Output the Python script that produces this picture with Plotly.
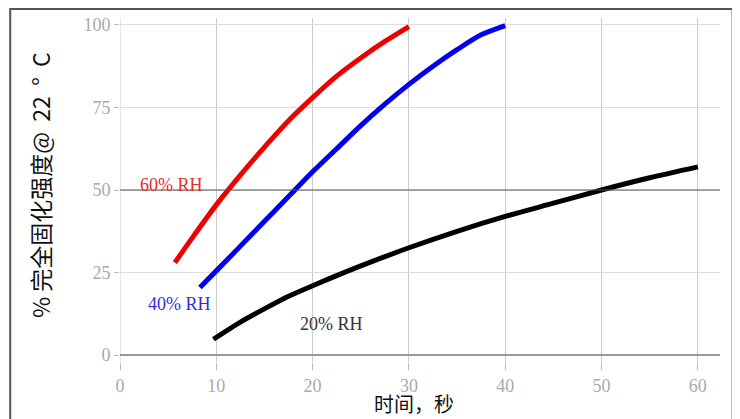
import plotly.graph_objects as go

# Data
rh60_x = [5.7, 7.5, 10, 12.5, 15, 17.5, 20, 22.5, 25, 27.5, 30]
rh60_y = [28, 35.5, 45.5, 54.5, 63, 71, 78, 84.5, 90, 95, 99.5]

rh40_x = [8.3, 10, 12.5, 15, 17.5, 20, 22.5, 25, 27.5, 30, 32.5, 35, 37.5, 40]
rh40_y = [20.5, 25.5, 33, 40.5, 48, 55.5, 62.5, 69.5, 76, 82, 87.5, 92.5, 97, 99.8]

rh20_x = [9.7, 12.5, 15, 17.5, 20, 25, 30, 35, 40, 45, 50, 55, 60]
rh20_y = [4.8, 10, 14, 17.8, 21, 27, 32.5, 37.5, 42, 46, 50, 53.7, 57]

series_names = ["60% RH", "40% RH", "20% RH"]
series_colors = ["#ee0000", "#0000ee", "#000000"]
label_colors = ["#e03030", "#3030e0", "#333333"]
label_x = [5.3, 6.2, 22]
label_y = [51.5, 15.5, 9.5]

x_ticks = [0, 10, 20, 30, 40, 50, 60]
y_ticks = [0, 25, 50, 75, 100]
ref_line_y = 50

x_title = "时间，秒"
y_title = "%\u00a0完全固化强度@\u00a0\u00a022\u00a0\u00a0°\u00a0\u00a0C"

serif = "Liberation Serif, Noto Serif, serif"

fig = go.Figure()
for xs, ys, name, col in zip([rh60_x, rh40_x, rh20_x], [rh60_y, rh40_y, rh20_y],
                             series_names, series_colors):
    fig.add_trace(go.Scatter(x=xs, y=ys, mode="lines", name=name,
                             line=dict(color=col, width=5, shape="spline", smoothing=0.8),
                             showlegend=False, hoverinfo="skip"))

for name, col, lx, ly in zip(series_names, label_colors, label_x, label_y):
    fig.add_annotation(x=lx, y=ly, text=name, showarrow=False,
                       font=dict(family=serif, size=18, color=col))

# reference line at 50
fig.add_shape(type="line", xref="paper", x0=0, x1=1, yref="y", y0=ref_line_y, y1=ref_line_y,
              line=dict(color="#555555", width=1), layer="above")

# outer border
fig.add_shape(type="rect", xref="paper", yref="paper",
              x0=-0.183, x1=1.021, y0=-0.2, y1=1.026,
              line=dict(color="#555555", width=2), layer="below")

tick_font = dict(family=serif, size=18, color="#aaaaaa")

fig.update_xaxes(range=[0, 62.3], tickvals=x_ticks, showgrid=True, gridcolor="#cccccc",
                 gridwidth=1, zeroline=False, showline=False, automargin=False,
                 ticks="outside", ticklen=7, tickcolor="#bbbbbb", tickfont=tick_font)
fig.update_yaxes(range=[-2.1, 102.1], tickvals=y_ticks, showgrid=True, gridcolor="#dddddd",
                 gridwidth=1, zeroline=True, zerolinecolor="#999999", zerolinewidth=1.5,
                 showline=False, ticks="outside", ticklen=5, tickcolor="#bbbbbb",
                 tickfont=tick_font, automargin=False)

# axis titles as annotations
fig.add_annotation(xref="paper", yref="paper", x=0.49, y=-0.122, text=x_title,
                   showarrow=False, yanchor="middle",
                   font=dict(family="Noto Sans CJK SC", size=20, color="#111111"))
fig.add_annotation(xref="paper", yref="paper", x=-0.133, y=0.515, text=y_title,
                   showarrow=False, textangle=-90, xanchor="center", yanchor="middle",
                   font=dict(family="Noto Sans CJK SC", size=23, color="#111111"))

# y axis line at x=0 (vertical gridline)
fig.add_shape(type="line", xref="x", x0=0, x1=0, yref="paper", y0=0, y1=1,
              line=dict(color="#cccccc", width=1), layer="below")

fig.update_layout(width=732, height=411, plot_bgcolor="white", paper_bgcolor="white",
                  margin=dict(l=112, r=20, t=10, b=57))

fig.write_html("out.html")
